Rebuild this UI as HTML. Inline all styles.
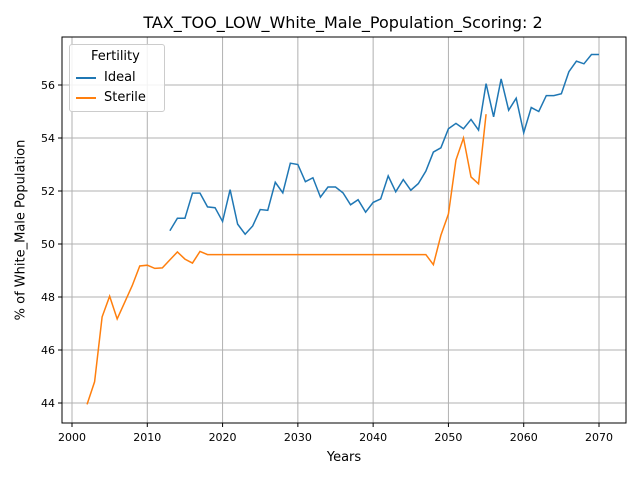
<!DOCTYPE html>
<html><head><meta charset="utf-8"><style>body{margin:0;background:#fff}svg{display:block;font-family:"DejaVu Sans","Liberation Sans",sans-serif}</style></head>
<body>
<svg id="c" width="640" height="480"></svg>
<script>
const idealYears=[];for(let y=2013;y<=2070;y++)idealYears.push(y);
const idealValues=[50.5,50.97,50.97,51.92,51.92,51.4,51.37,50.85,52.05,50.75,50.37,50.68,51.3,51.27,52.33,51.93,53.05,53.0,52.35,52.5,51.77,52.15,52.15,51.93,51.48,51.67,51.2,51.57,51.7,52.57,51.97,52.43,52.03,52.28,52.75,53.47,53.63,54.35,54.55,54.35,54.7,54.3,56.05,54.8,56.23,55.05,55.5,54.2,55.15,55.0,55.6,55.6,55.67,56.5,56.9,56.8,57.15,57.15];
const sterileYears=[];for(let y=2002;y<=2055;y++)sterileYears.push(y);
const sterileValues=[43.95,44.8,47.25,48.03,47.17,47.8,48.43,49.17,49.2,49.08,49.1,49.4,49.7,49.43,49.28,49.72,
49.6,49.6,49.6,49.6,49.6,49.6,49.6,49.6,49.6,49.6,
49.6,49.6,49.6,49.6,49.6,49.6,49.6,49.6,49.6,49.6,
49.6,49.6,49.6,49.6,49.6,49.6,49.6,49.6,49.6,49.6,
49.22,50.33,51.13,53.17,54.0,52.53,52.27,54.9];
const xTicks=[2000,2010,2020,2030,2040,2050,2060,2070];
const yTicks=[44,46,48,50,52,54,56];
const L=62,R=626,T=37,B=423;
const X=v=>72+(v-2000)*(599-72)/70;
const Y=v=>403-(v-44)*(403-85)/12;
const s=document.getElementById('c');const NS='http://www.w3.org/2000/svg';
function el(t,a,p){const e=document.createElementNS(NS,t);for(const k in a)e.setAttribute(k,a[k]);(p||s).appendChild(e);return e;}
xTicks.forEach(t=>{const g=el('line',{x1:X(t),x2:X(t),y1:T,y2:B,stroke:'#b0b0b0','stroke-width':1});

el('line',{x1:X(t),x2:X(t),y1:B,y2:B+4,stroke:'#000'});
const tx=el('text',{x:X(t),y:B+18,'text-anchor':'middle','font-size':11});tx.textContent=t;
});
yTicks.forEach(t=>{const g=el('line',{x1:L,x2:R,y1:Y(t),y2:Y(t),stroke:'#b0b0b0','stroke-width':1});

el('line',{x1:L-4,x2:L,y1:Y(t),y2:Y(t),stroke:'#000'});
const tx=el('text',{x:L-7,y:Y(t)+4,'text-anchor':'end','font-size':11});tx.textContent=t;
});
function line(xs,ys,c,n){const p=el('polyline',{points:xs.map((x,i)=>X(x)+','+Y(ys[i])).join(' '),fill:'none',stroke:c,'stroke-width':1.5});
}
line(idealYears,idealValues,'#1f77b4','ideal-line');
line(sterileYears,sterileValues,'#ff7f0e','sterile-line');
const fr=el('rect',{x:L,y:T,width:R-L,height:B-T,fill:'none',stroke:'#000','stroke-width':1});

</script>
<div style="position:absolute;left:0;top:0;width:640px;height:480px;pointer-events:none">
<div style="position:absolute;top:13px;left:23px;width:640px;text-align:center;font:16px 'DejaVu Sans','Liberation Sans',sans-serif">TAX_TOO_LOW_White_Male_Population_Scoring: 2</div>
<div style="position:absolute;top:450px;left:344px;transform:translateX(-50%);font:13px 'DejaVu Sans','Liberation Sans',sans-serif">Years</div>
<div style="position:absolute;left:21px;top:230px;transform:translate(-50%,-50%) rotate(-90deg);font:13px 'DejaVu Sans','Liberation Sans',sans-serif;white-space:nowrap">% of White_Male Population</div>
<div style="position:absolute;left:69px;top:44px;width:94px;height:66px;border:1px solid #ccc;border-radius:3px;background:rgba(255,255,255,.85);font:13px 'DejaVu Sans','Liberation Sans',sans-serif">
<div style="position:absolute;left:21px;top:4px">Fertility</div>
<div style="position:absolute;left:6px;top:25px"><span style="display:inline-block;width:20px;height:2px;background:#1f77b4;vertical-align:middle;margin-right:8px"></span>Ideal</div>
<div style="position:absolute;left:6px;top:45px"><span style="display:inline-block;width:20px;height:2px;background:#ff7f0e;vertical-align:middle;margin-right:8px"></span>Sterile</div>
</div></div>
</body></html>
